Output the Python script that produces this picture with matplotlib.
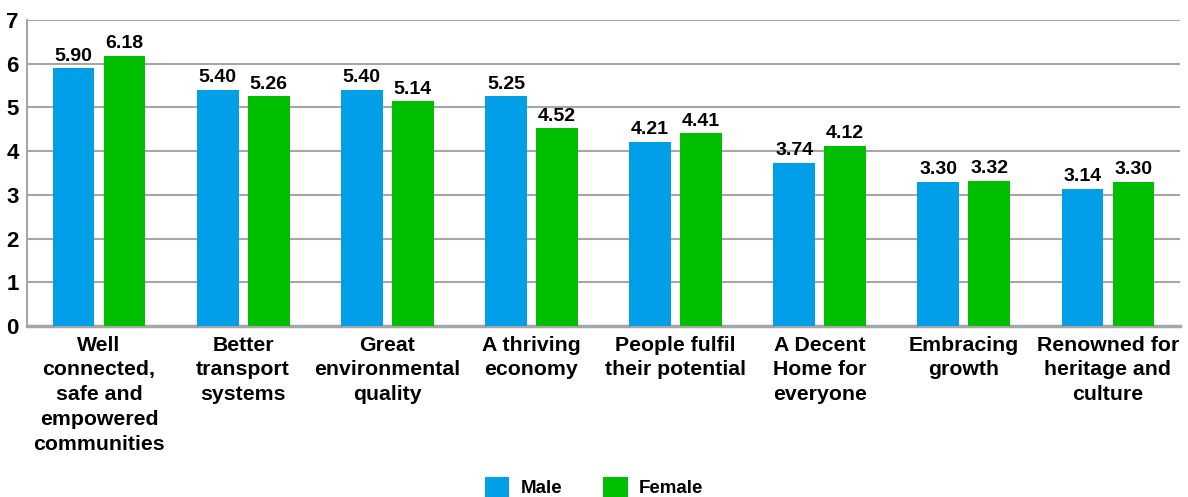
import numpy as np
import matplotlib
matplotlib.use('Agg')
from matplotlib import pyplot as plt

plt.rcParams['font.family'] = ['Liberation Sans', 'DejaVu Sans']
plt.rcParams['font.weight'] = 'bold'

categories = ['Well\nconnected,\nsafe and\nempowered\ncommunities',
              'Better\ntransport\nsystems',
              'Great\nenvironmental\nquality',
              'A thriving\neconomy',
              'People fulfil\ntheir potential',
              'A Decent\nHome for\neveryone',
              'Embracing\ngrowth',
              'Renowned for\nheritage and\nculture']
male = [5.90, 5.40, 5.40, 5.25, 4.21, 3.74, 3.30, 3.14]
female = [6.18, 5.26, 5.14, 4.52, 4.41, 4.12, 3.32, 3.30]

blue = '#009fe8'
green = '#00be00'
grey = '#a6a6a6'

fig = plt.figure(figsize=(11.88, 4.97), dpi=100)
ax = fig.add_axes([0.0227, 0.344, 0.9706, 0.6158])

x = np.arange(len(categories))
w = 0.29
off = 0.177
b1 = ax.bar(x - off, male, w, color=blue, label='Male', zorder=3)
b2 = ax.bar(x + off, female, w, color=green, label='Female', zorder=3)

for bars, vals in ((b1, male), (b2, female)):
    for r, v in zip(bars, vals):
        ax.text(r.get_x() + r.get_width() / 2, v + 0.08, '%.2f' % v,
                ha='center', va='bottom', fontsize=14, fontweight='bold')

ax.set_xlim(-0.5, 7.5)
ax.set_ylim(0, 7)
ax.set_yticks(range(8))
ax.yaxis.grid(True, color=grey, lw=1.5, zorder=0)
ax.set_axisbelow(True)
ax.set_xticks(x)
ax.set_xticklabels(categories, fontsize=15.3, fontweight='bold', linespacing=1.38)
ax.tick_params(axis='x', length=0, pad=7)
ax.tick_params(axis='y', length=0, pad=6, labelsize=16)
for t in ax.get_yticklabels():
    t.set_fontweight('bold')
for s in ['top', 'right']:
    ax.spines[s].set_visible(False)
ax.spines['left'].set_color(grey)
ax.spines['left'].set_linewidth(1.5)
ax.spines['bottom'].set_color(grey)
ax.spines['bottom'].set_linewidth(2.5)

fig.legend(handles=[b1, b2], loc='center', bbox_to_anchor=(0.5, 0.02), ncol=2,
           frameon=False, handlelength=1.3, handleheight=1.3,
           columnspacing=2.2, handletextpad=0.6, prop={'weight': 'bold', 'size': 13.5})

fig.savefig('out.png', dpi=100)
